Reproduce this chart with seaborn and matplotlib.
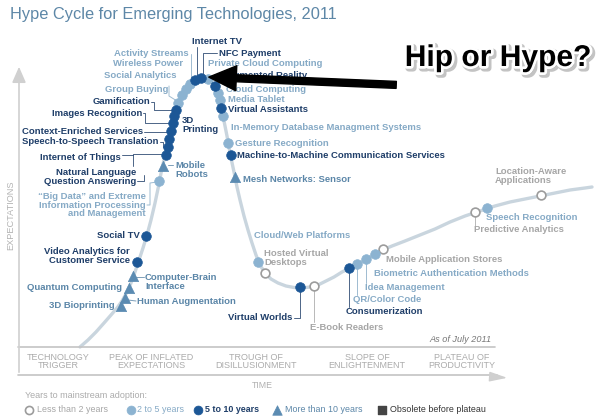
import matplotlib
matplotlib.use("Agg")
import matplotlib.pyplot as plt
import matplotlib.patheffects as pe
import seaborn as sns
import pandas as pd

sns.set_theme(style="white")
plt.rcParams['font.family'] = ['Liberation Sans', 'DejaVu Sans']

# ---------------- data (chart units: time / expectation) -------------
curve_x = [80, 88, 96, 104, 111, 117, 122, 127, 131, 135, 139, 143, 147, 151, 155, 159, 162, 165,
           168, 171, 174, 177, 180, 184, 188, 192, 196, 200, 205, 210, 214, 217, 219, 221, 223,
           225, 227, 229, 231, 234, 237, 240, 244, 248, 252, 256, 260, 265, 271, 278, 286, 294,
           302, 310, 318, 326, 334, 342, 350, 360, 370, 380, 392, 405, 420, 435, 450, 465, 480,
           495, 510, 525, 540, 555, 570, 585, 592]
curve_y = [347, 340, 332, 323, 315, 308, 301, 292, 283, 272, 260, 248, 235, 220, 203, 184, 168, 156,
           145, 133, 118, 107, 99, 92, 86, 82, 79, 77.5, 77.5, 80, 85, 92, 99, 107, 116,
           126, 136, 147, 158, 172, 187, 200, 216, 230, 243, 255, 265, 273, 279, 283, 286, 287.5,
           288, 287, 285, 281, 277, 272, 268, 263, 257, 251, 246, 241, 235, 229, 222, 216, 211,
           206, 202, 199, 196, 193, 190, 188, 187]

tech_names = [
    "3D Bioprinting", "Human Augmentation", "Quantum Computing", "Computer-Brain\nInterface",
    "Video Analytics for\nCustomer Service", "Social TV",
    "\u201cBig Data\u201d and Extreme\nInformation Processing\nand Management",
    "Mobile\nRobots", "Natural Language\nQuestion Answering", "Speech-to-Speech Translation",
    "Internet of Things", "Context-Enriched Services", "Images Recognition", "3D\nPrinting",
    "Gamification", "Group Buying", "Social Analytics", "Wireless Power", "Activity Streams",
    "Internet TV", "NFC Payment", "Private Cloud Computing", "Augmented Reality",
    "Cloud Computing", "Media Tablet", "Virtual Assistants",
    "In-Memory Database Managment Systems", "Gesture Recognition",
    "Machine-to-Machine Communication Services", "Mesh Networks: Sensor",
    "Cloud/Web Platforms", "Hosted Virtual\nDesktops", "Virtual Worlds", "E-Book Readers",
    "Consumerization", "QR/Color Code", "Idea Management", "Biometric Authentication Methods",
    "Mobile Application Stores", "Predictive Analytics", "Speech Recognition",
    "Location-Aware\nApplications"]
tech_time = [121, 125, 129, 133, 137, 146, 159, 163, 166, 167.5, 169, 171, 172.5, 174, 176,
             178, 182, 186, 190, 195, 201, 208, 214.5, 217.5, 219.5, 221, 223, 228, 230.5, 235,
             258, 264.5, 300, 314, 349, 357, 366, 375, 383, 475, 487, 541]
tech_expect = [306, 298, 288, 276, 262, 236, 181, 166, 155, 147, 139, 131, 123, 116, 110,
               103, 95, 89, 84, 80, 77.5, 78.5, 86, 93, 100, 108, 116, 143, 155, 177,
               262, 273, 287, 286, 268, 264, 259, 254, 249, 212, 207.5, 195]
tech_years = ["gt10", "gt10", "gt10", "gt10", "5to10", "5to10", "2to5", "gt10", "5to10", "5to10",
              "5to10", "5to10", "5to10", "5to10", "5to10", "2to5", "2to5", "2to5", "2to5",
              "5to10", "5to10", "2to5", "5to10", "2to5", "2to5", "5to10", "2to5", "2to5",
              "5to10", "gt10", "2to5", "lt2", "5to10", "lt2", "5to10", "2to5", "2to5", "2to5",
              "lt2", "lt2", "2to5", "lt2"]

phase_labels = ["TECHNOLOGY\nTRIGGER", "PEAK OF INFLATED\nEXPECTATIONS", "TROUGH OF\nDISILLUSIONMENT",
                "SLOPE OF\nENLIGHTENMENT", "PLATEAU OF\nPRODUCTIVITY"]
legend_labels = ["Less than 2 years", "2 to 5 years", "5 to 10 years", "More than 10 years",
                 "Obsolete before plateau"]

# ---------------- layout / style ----------------
label_pos = {  # name: (x, y, ha)
    "3D Bioprinting": (115, 306, "right"),
    "Human Augmentation": (137, 301, "left"),
    "Quantum Computing": (122, 288, "right"),
    "Computer-Brain\nInterface": (145, 282, "left"),
    "Video Analytics for\nCustomer Service": (130, 256, "right"),
    "Social TV": (140, 236, "right"),
    "\u201cBig Data\u201d and Extreme\nInformation Processing\nand Management": (146, 205, "right"),
    "Mobile\nRobots": (175, 170, "left"),
    "Natural Language\nQuestion Answering": (136, 177, "right"),
    "Speech-to-Speech Translation": (159, 142, "right"),
    "Internet of Things": (121, 157, "right"),
    "Context-Enriched Services": (143, 132, "right"),
    "Images Recognition": (142, 113, "right"),
    "3D\nPrinting": (182, 125, "left"),
    "Gamification": (150, 102, "right"),
    "Group Buying": (168, 89, "right"),
    "Social Analytics": (176, 76, "right"),
    "Wireless Power": (183, 64, "right"),
    "Activity Streams": (189, 54, "right"),
    "Internet TV": (192, 42, "left"),
    "NFC Payment": (219, 53, "left"),
    "Private Cloud Computing": (208, 64, "left"),
    "Augmented Reality": (221, 76, "left"),
    "Cloud Computing": (226, 89, "left"),
    "Media Tablet": (228, 99, "left"),
    "Virtual Assistants": (228, 110, "left"),
    "In-Memory Database Managment Systems": (231, 127, "left"),
    "Gesture Recognition": (235, 143, "left"),
    "Machine-to-Machine Communication Services": (237, 155, "left"),
    "Mesh Networks: Sensor": (243, 179, "left"),
    "Cloud/Web Platforms": (254, 236, "left"),
    "Hosted Virtual\nDesktops": (264, 258, "left"),
    "Virtual Worlds": (292, 318, "right"),
    "E-Book Readers": (310, 327, "left"),
    "Consumerization": (346, 311, "left"),
    "QR/Color Code": (353, 299, "left"),
    "Idea Management": (365, 287, "left"),
    "Biometric Authentication Methods": (374, 274, "left"),
    "Mobile Application Stores": (386, 259, "left"),
    "Predictive Analytics": (474, 230, "left"),
    "Speech Recognition": (486, 218, "left"),
    "Location-Aware\nApplications": (495, 176, "left"),
}

leaders = [  # (points, class)
    ([(191, 54), (191, 84)], "2to5"),
    ([(197, 47), (197, 79)], "5to10"),
    ([(217, 53), (203, 53), (203, 77)], "5to10"),
    ([(169, 86), (169, 96), (177, 101)], "2to5"),
    ([(151, 102), (154, 102), (154, 110), (174, 110)], "5to10"),
    ([(143, 113), (145, 113), (145, 123), (170, 123)], "5to10"),
    ([(144, 132), (169, 132)], "5to10"),
    ([(160, 142), (163, 142), (163, 147), (166, 147)], "5to10"),
    ([(122, 155), (133, 155)], "5to10"),
    ([(133, 166), (133, 154), (164, 154)], "5to10"),
    ([(137, 181), (144, 181), (144, 175)], "5to10"),
    ([(147, 205), (150, 205), (150, 183), (157, 182)], "2to5"),
    ([(168, 165), (173, 165)], "gt10"),
    ([(136, 301), (128, 300)], "gt10"),
    ([(144, 277), (136, 277)], "gt10"),
    ([(294, 318), (300, 318), (300, 291)], "5to10"),
    ([(314, 322), (314, 290)], "lt2"),
    ([(349, 307), (349, 272)], "5to10"),
    ([(357, 295), (357, 268)], "2to5"),
    ([(366, 283), (366, 263)], "2to5"),
    ([(475, 226), (475, 216)], "lt2"),
]

marker_style = {
    "lt2":   dict(marker="o", s=40, color="white", edgecolor="#9c9c9c", linewidth=1.2),
    "2to5":  dict(marker="o", s=48, color="#8cb3d1", edgecolor="#8cb3d1", linewidth=0.5),
    "5to10": dict(marker="o", s=48, color="#1c5796", edgecolor="#1c5796", linewidth=0.5),
    "gt10":  dict(marker="^", s=55, color="#5b8bb2", edgecolor="#5b8bb2", linewidth=0.5),
}
text_color = {"lt2": "#a6a6a6", "2to5": "#86aac6", "5to10": "#1f3e69", "gt10": "#5b86a8"}

FS = 6.8
df = pd.DataFrame({"name": tech_names, "time": tech_time, "expect": tech_expect, "years": tech_years})

fig = plt.figure(figsize=(6, 4.2), dpi=100)
ax = fig.add_axes([0, 0, 1, 1])
ax.set_xlim(0, 600)
ax.set_ylim(420, 0)
ax.axis("off")

# curve
sns.lineplot(x=curve_x, y=curve_y, sort=False, estimator=None, color="#c9d5de",
             linewidth=2.4, ax=ax, zorder=1)

# leader lines
for pts, cls in leaders:
    xs, ys = zip(*pts)
    ax.plot(xs, ys, color=text_color[cls], lw=0.7, alpha=0.8, zorder=2)

# markers
for cls, st in marker_style.items():
    sub = df[df["years"] == cls]
    sns.scatterplot(data=sub, x="time", y="expect", ax=ax, legend=False, zorder=3, **st)

# labels
for _, r in df.iterrows():
    lx, ly, ha = label_pos[r["name"]]
    ax.text(lx, ly, r["name"], ha=ha, va="center", fontsize=FS, fontweight="bold",
            color=text_color[r["years"]], linespacing=0.92, zorder=4)

# title
ax.text(10, 14, "Hype Cycle for Emerging Technologies, 2011", fontsize=11.8,
        color="#5d87a7", ha="left", va="center")

# frame
gray = "#c4c4c4"
ax.annotate("", xy=(19, 64), xytext=(19, 375),
            arrowprops=dict(arrowstyle="-|>,head_length=0.8,head_width=0.35", color="#d0d0d0", lw=1.2))
ax.plot([18, 495], [347, 347], color=gray, lw=1.2)
ax.plot([18, 497], [375, 375], color=gray, lw=1.2)
ax.annotate("", xy=(510, 378), xytext=(495, 377),
            arrowprops=dict(arrowstyle="-|>,head_length=0.9,head_width=0.25", color="#cfcfcf", lw=1.0))
ax.text(11, 215, "EXPECTATIONS", rotation=90, fontsize=6.6, color="#b3b3b3", ha="center", va="center")
phase_x = [58, 151, 256, 367, 462]
for px, lab in zip(phase_x, phase_labels):
    ax.text(px, 361.5, lab, ha="center", va="center", fontsize=6.5, color="#ababab",
            linespacing=0.92)
ax.text(262, 386, "TIME", ha="center", va="center", fontsize=6.3, color="#b0b0b0")
ax.text(492, 340, "As of July 2011", ha="right", va="center", fontsize=6.6,
        style="italic", color="#777777")

# legend
ax.text(25, 396, "Years to mainstream adoption:", fontsize=6.5, color="#ababab", ha="left", va="center")
leg_mx = [29, 131, 198, 277, 382]
leg_tx = [37, 137, 205, 285, 390]
leg_cls = ["lt2", "2to5", "5to10", "gt10", "obs"]
for mx, tx, cls, lab in zip(leg_mx, leg_tx, leg_cls, legend_labels):
    if cls == "obs":
        ax.scatter([mx], [410], marker="s", s=32, color="#444444", zorder=3)
        tc, fw = "#333333", "normal"
    else:
        st = marker_style[cls]
        ax.scatter([mx], [410], marker=st["marker"], s=st["s"] * 0.85, c=st["color"],
                   edgecolors=st["edgecolor"], linewidths=st["linewidth"], zorder=3)
        tc = text_color[cls]
        fw = "bold" if cls == "5to10" else "normal"
    ax.text(tx, 410, lab, fontsize=6.4, color=tc, fontweight=fw, ha="left", va="center")

# annotation arrow and callout
ax.annotate("", xy=(206, 77), xytext=(399, 85),
            arrowprops=dict(arrowstyle="simple,head_length=1.1,head_width=1.0,tail_width=0.28",
                            color="black", mutation_scale=18), zorder=6)
ax.text(498, 58, "Hip or Hype?", fontsize=21.6, fontweight="bold", color="black",
        ha="center", va="center", zorder=7,
        path_effects=[pe.Stroke(linewidth=5, foreground="#888888", alpha=0.5, offset=(1.5, -1.5)),
                      pe.Stroke(linewidth=4, foreground="white"), pe.Normal()])

fig.savefig("out.png", dpi=100)
